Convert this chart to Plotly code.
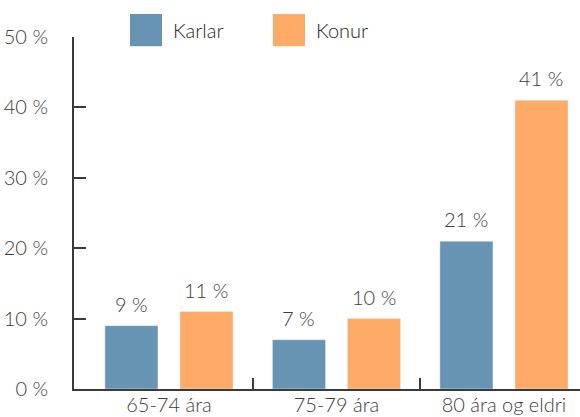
import plotly.graph_objects as go

categories = ["65-74 ára", "75-79 ára", "80 ára og eldri"]
karlar = [9, 7, 21]
konur = [11, 10, 41]
y_ticks = [0, 10, 20, 30, 40, 50]
y_labels = [f"{v} %" for v in y_ticks]

blue = "#6894b4"
orange = "#fdab67"
txt = "#3c3c3c"
axis_col = "#3a3a3a"

x = list(range(len(categories)))

fig = go.Figure()
fig.add_trace(go.Bar(x=x, y=karlar, name="Karlar", marker_color=blue, showlegend=False))
fig.add_trace(go.Bar(x=x, y=konur, name="Konur", marker_color=orange, showlegend=False))

# value labels above bars (shifted half a group slot left/right)
for vals, shift in [(karlar, -37.5), (konur, 37.5)]:
    for xi, v in zip(x, vals):
        fig.add_annotation(x=xi, y=v, text=f"{v} %", showarrow=False,
                           xshift=shift, yshift=8, yanchor="bottom",
                           font=dict(size=20, color=txt))

# legend drawn by hand: big square swatches
legend_items = [("Karlar", blue, 0.1107), ("Konur", orange, 0.3933)]
for name, col, x0 in legend_items:
    fig.add_shape(type="rect", xref="paper", yref="paper",
                  x0=x0, x1=x0 + 0.0632, y0=0.974, y1=1.065,
                  fillcolor=col, line_width=0)
    fig.add_annotation(x=x0 + 0.081, y=1.02, xref="paper", yref="paper",
                       text=name, showarrow=False, xanchor="left", yanchor="middle",
                       font=dict(size=20, color="#222222"))

fig.update_layout(
    width=580, height=417,
    margin=dict(l=74, r=0, t=37, b=28),
    barmode="group", bargap=0.104, bargroupgap=0.293,
    plot_bgcolor="white", paper_bgcolor="white",
    font=dict(family="Lato", size=20, color=txt, weight=300),
    xaxis=dict(
        range=[-0.567, 2.454], tickvals=x, ticktext=categories, ticks="",
        showline=True, linecolor=axis_col, linewidth=2, showgrid=False, zeroline=False,
        automargin=False, ticklabelstandoff=-3,
        minor=dict(tickvals=[0.5, 1.5], ticks="inside", ticklen=11,
                   tickwidth=2, tickcolor=axis_col, showgrid=False),
    ),
    yaxis=dict(
        range=[0, 50], tickvals=y_ticks, ticktext=y_labels,
        ticks="inside", ticklen=12, tickwidth=2, tickcolor=axis_col,
        showline=True, linecolor=axis_col, linewidth=2, showgrid=False, zeroline=False,
        ticklabelstandoff=20, automargin=False,
    ),
)

# page body has a default 8px margin; drop it so the chart sits at 0,0
fig.write_html("out.html", config={"displayModeBar": False},
               post_script="document.body.style.margin='0';")
